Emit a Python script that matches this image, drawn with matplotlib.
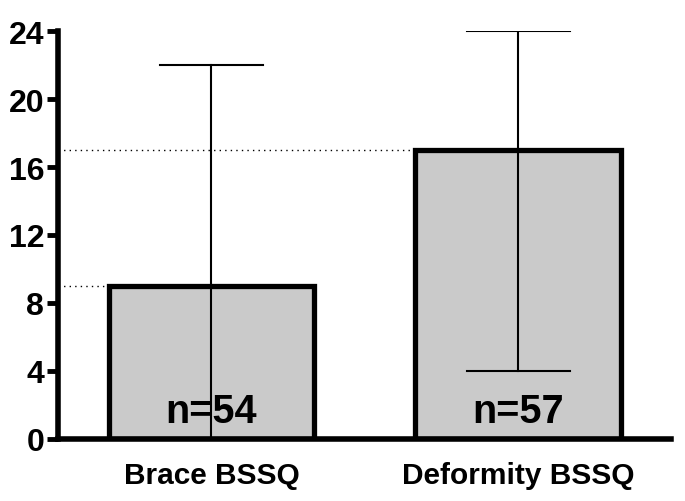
import matplotlib
matplotlib.use("Agg")
from matplotlib import pyplot as plt

categories = ["Brace BSSQ", "Deformity BSSQ"]
medians = [9, 17]
lows = [0, 4]
highs = [22, 24]
counts = ["n=54", "n=57"]

plt.rcParams["font.family"] = ["Liberation Sans", "DejaVu Sans"]
plt.rcParams["font.weight"] = "bold"

fig = plt.figure(figsize=(6.85, 5.02), dpi=100)
ax = fig.add_axes([0.085, 0.124, 0.895, 0.812])

x = list(range(len(categories)))
ax.bar(x, medians, width=0.67, color="#cacaca", edgecolor="black", linewidth=3.8, zorder=2)

# range whiskers
for xi, lo, hi in zip(x, lows, highs):
    ax.plot([xi, xi], [lo, hi], color="black", lw=1.5, zorder=3)
    ax.plot([xi - 0.168, xi + 0.168], [hi, hi], color="black", lw=1.5, zorder=3)
    ax.plot([xi - 0.168, xi + 0.168], [lo, lo], color="black", lw=1.5, zorder=3)

# dotted reference lines to bar tops
for xi, m in zip(x, medians):
    ax.plot([-0.5, xi - 0.335], [m, m], color="black", lw=1, ls=(0, (1, 3)), zorder=1)

for xi, t in zip(x, counts):
    ax.text(xi, 1.65, t, ha="center", va="center", fontsize=28.5, fontweight="bold", zorder=4)

ax.set_xlim(-0.5, 1.5)
ax.set_ylim(0, 24)
ax.set_yticks([0, 4, 8, 12, 16, 20, 24])
ax.set_xticks(x)
ax.set_xticklabels(categories, fontsize=21.5, fontweight="bold")
ax.tick_params(axis="y", labelsize=23, width=3.5, length=8, pad=2)
ax.tick_params(axis="x", length=0, pad=16)
for lab in ax.get_yticklabels():
    lab.set_fontweight("bold")

ax.spines["top"].set_visible(False)
ax.spines["right"].set_visible(False)
ax.spines["left"].set_linewidth(4)
ax.spines["bottom"].set_linewidth(4)
ax.spines["left"].set_zorder(5)
ax.spines["bottom"].set_zorder(5)

fig.savefig("out.png", dpi=100)
